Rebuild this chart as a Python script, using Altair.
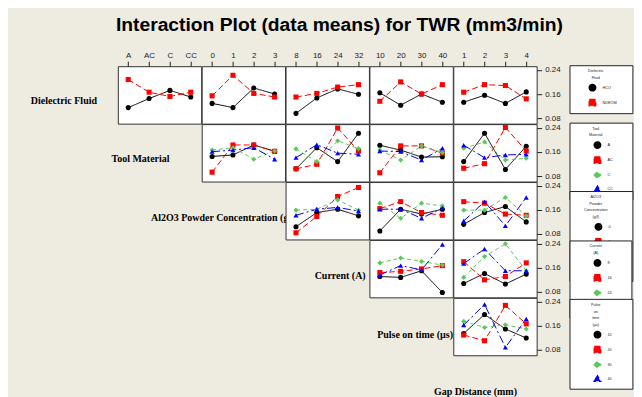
import altair as alt
import pandas as pd

TITLE = "Interaction Plot (data means) for TWR (mm3/min)"
FACTORS = ["Dielectric Fluid", "Tool Material", "Al2O3 Powder Concentration (g/l)",
           "Current (A)", "Pulse on time (µs)", "Gap Distance (mm)"]
LEVELS = [["HCO", "NDEOM"], ["A", "AC", "C", "CC"], ["0", "1", "2", "3"],
          ["8", "16", "24", "32"], ["10", "20", "30", "40"], ["1", "2", "3", "4"]]
LEGEND_TITLES = [["Dielectric", "Fluid"], ["Tool", "Material"],
                 ["Al2O3", "Powder", "Concentration", "(g/l)"], ["Current", "(A)"],
                 ["Pulse", "on", "time", "(µs)"]]
Y_TICKS = [0.08, 0.16, 0.24]

# Means: one list per trace level (row factor), values along the column factor levels
DF_TOOL = [[0.115, 0.145, 0.172, 0.150], [0.208, 0.166, 0.152, 0.166]]
DF_AL2O3 = [[0.129, 0.115, 0.180, 0.160], [0.154, 0.222, 0.162, 0.150]]
DF_CURRENT = [[0.096, 0.147, 0.177, 0.159], [0.150, 0.162, 0.183, 0.191]]
DF_PULSE = [[0.164, 0.123, 0.160, 0.133], [0.136, 0.200, 0.160, 0.191]]
DF_GAP = [[0.133, 0.156, 0.129, 0.167], [0.166, 0.191, 0.188, 0.144]]

TM_AL2O3 = [[0.145, 0.150, 0.183, 0.162], [0.093, 0.183, 0.183, 0.162],
            [0.166, 0.174, 0.136, 0.163], [0.161, 0.166, 0.174, 0.136]]
TM_CURRENT = [[0.104, 0.174, 0.128, 0.222], [0.104, 0.119, 0.239, 0.163],
              [0.170, 0.128, 0.197, 0.171], [0.141, 0.184, 0.156, 0.152]]
TM_PULSE = [[0.182, 0.166, 0.143, 0.144], [0.091, 0.180, 0.180, 0.156],
            [0.166, 0.133, 0.180, 0.158], [0.163, 0.161, 0.133, 0.172]]
TM_GAP = [[0.128, 0.222, 0.102, 0.179], [0.106, 0.121, 0.241, 0.163],
          [0.172, 0.193, 0.133, 0.139], [0.182, 0.141, 0.150, 0.152]]

AL_CURRENT = [[0.104, 0.151, 0.162, 0.140], [0.084, 0.138, 0.204, 0.234],
              [0.159, 0.162, 0.193, 0.159], [0.142, 0.162, 0.168, 0.156]]
AL_PULSE = [[0.090, 0.162, 0.146, 0.162], [0.164, 0.187, 0.151, 0.142],
            [0.182, 0.132, 0.182, 0.173], [0.162, 0.162, 0.132, 0.166]]
AL_GAP = [[0.112, 0.151, 0.171, 0.120], [0.187, 0.182, 0.146, 0.142],
          [0.159, 0.159, 0.201, 0.140], [0.123, 0.187, 0.107, 0.201]]

CU_PULSE = [[0.131, 0.128, 0.150, 0.078], [0.144, 0.148, 0.156, 0.167],
            [0.176, 0.192, 0.181, 0.169], [0.136, 0.167, 0.153, 0.237]]
CU_GAP = [[0.108, 0.141, 0.106, 0.139], [0.180, 0.120, 0.131, 0.176],
          [0.128, 0.197, 0.239, 0.150], [0.174, 0.222, 0.150, 0.150]]

PU_GAP = [[0.134, 0.197, 0.149, 0.119], [0.129, 0.110, 0.227, 0.166],
          [0.174, 0.154, 0.163, 0.149], [0.162, 0.230, 0.088, 0.182]]

PANELS = {
    (0, 1): DF_TOOL, (0, 2): DF_AL2O3, (0, 3): DF_CURRENT, (0, 4): DF_PULSE, (0, 5): DF_GAP,
    (1, 2): TM_AL2O3, (1, 3): TM_CURRENT, (1, 4): TM_PULSE, (1, 5): TM_GAP,
    (2, 3): AL_CURRENT, (2, 4): AL_PULSE, (2, 5): AL_GAP,
    (3, 4): CU_PULSE, (3, 5): CU_GAP,
    (4, 5): PU_GAP,
}

COLORS = ["#000000", "#FF0000", "#5CC85C", "#0000FF"]
SHAPES = ["circle", "square", "diamond", "triangle-up"]
DASHES = [[1, 0], [6, 3], [4, 3], [8, 3, 2, 3]]

W = 83.5
H = 57.5
LEFT = 109.3
TOP = 58
BOTTOM = 30
COL_W = [LEFT] + [W] * 5
Y_DOMAIN = [0.062, 0.252]
BG = "#EEEBE0"
LEGEND_Y = [-1, -1.5, 9, 0.5, 1]
# non-breaking spaces added left/right of legend title lines (sets box width)
LEGEND_PAD = [(14, 23), (15, 24), (10, 19), (15, 24), (17, 26)]
# diagonal-cell label positions (x, baseline y, align) relative to the cell
LABEL_POS = [(56, 37.5, "center"), (22.7, 38, "center"), (-50.8, 39.5, "left"),
             (54.7, 39, "center"), (45.7, 40.5, "center"), (22.2, 39.5, "center")]
LABEL_FONT = "Liberation Serif"
SMALL_FONT = "Liberation Sans"
NBSP = "\u00a0"
ZWSP = "\u200b"

ind = dict(x="independent", y="independent", color="independent",
           shape="independent", strokeDash="independent")


def panel(r, c):
    series = PANELS[(r, c)]
    recs = []
    for lvl, vals in zip(LEVELS[r], series):
        for xl, v in zip(LEVELS[c], vals):
            recs.append({"trace": lvl, "x": xl, "v": v})
    df = pd.DataFrame(recs)
    n = len(LEVELS[r])
    if r == 0:
        x_axis = alt.Axis(orient="top", title=None, labelAngle=0, ticks=True, tickSize=5,
                          labelPadding=2, domain=False, grid=False)
    else:
        x_axis = None
    if c == 5:
        y_axis = alt.Axis(orient="right", title=None, values=Y_TICKS, format=".2f",
                          tickSize=5, labelPadding=3, domain=False, grid=False)
        pl, pr = LEGEND_PAD[r]
        title_lines = [ZWSP + NBSP * pl + t + NBSP * pr + ZWSP for t in LEGEND_TITLES[r]]
        legend = alt.Legend(
            title=title_lines, orient="none", legendX=116.4, legendY=LEGEND_Y[r],
            direction="vertical", strokeColor="#222", fillColor="white", padding=4,
            titleFont=SMALL_FONT, titleFontSize=3.8, titleFontWeight="normal",
            titleLineHeight=6.7, titleAnchor="middle", titleAlign="center",
            titlePadding=4, titleColor="#222",
            labelFont=SMALL_FONT, labelFontSize=3.8, labelColor="#222",
            symbolSize=40, symbolOffset=5, labelOffset=6, rowPadding=1)
    else:
        y_axis = None
        legend = None
    base = alt.Chart(df).encode(
        x=alt.X("x:N", sort=LEVELS[c],
                scale=alt.Scale(type="point", domain=LEVELS[c], padding=0.5), axis=x_axis),
        y=alt.Y("v:Q", scale=alt.Scale(domain=Y_DOMAIN, nice=False, zero=False), axis=y_axis),
        color=alt.Color("trace:N", scale=alt.Scale(domain=LEVELS[r], range=COLORS[:n]),
                        legend=legend),
    )
    lines = base.mark_line(strokeWidth=1).encode(
        strokeDash=alt.StrokeDash("trace:N", scale=alt.Scale(domain=LEVELS[r], range=DASHES[:n]),
                                  legend=None),
    )
    pts = base.mark_point(filled=True, size=26, opacity=1).encode(
        shape=alt.Shape("trace:N", scale=alt.Scale(domain=LEVELS[r], range=SHAPES[:n]),
                        legend=legend),
    )
    return alt.layer(lines, pts).properties(
        width=W, height=H,
        view=alt.ViewBackground(fill="white", stroke="#333333", strokeWidth=1),
    )


def text_chart(text, width, height, x, y, size, font, align, baseline="alphabetic"):
    df = pd.DataFrame({"t": [text]})
    return alt.Chart(df).mark_text(
        align=align, baseline=baseline, fontSize=size, font=font,
        fontWeight="bold", color="black"
    ).encode(x=alt.value(x), y=alt.value(y), text="t:N").properties(width=width, height=height)


def blank(width, height):
    return text_chart("", width, height, width / 2, height / 2, 4, SMALL_FONT, "center", "middle")


cells = [text_chart(TITLE, LEFT, TOP, 332, 23, 19.3, SMALL_FONT, "center")]
cells += [blank(W, TOP) for _ in range(5)]
for r in range(5):
    for k in range(6):
        if k == r:
            lx, ly, la = LABEL_POS[r]
            cells.append(text_chart(FACTORS[r], COL_W[k], H, lx, ly, 10, LABEL_FONT, la))
        elif k > r:
            cells.append(panel(r, k))
        else:
            cells.append(blank(COL_W[k], H))
for k in range(5):
    cells.append(blank(COL_W[k], BOTTOM))
lx, ly, la = LABEL_POS[5]
cells.append(text_chart(FACTORS[5], W, BOTTOM, lx, ly, 10, LABEL_FONT, la))

chart = alt.concat(*cells, columns=6, spacing=0, bounds="flush", align="each").resolve_scale(
    **ind
).properties(padding=0, background=BG).configure_view(strokeWidth=0).configure_axis(
    labelFont=SMALL_FONT, labelFontSize=8, labelColor="#222", tickColor="#222"
)

chart.save("out.html", embed_options={"renderer": "svg", "actions": False})
